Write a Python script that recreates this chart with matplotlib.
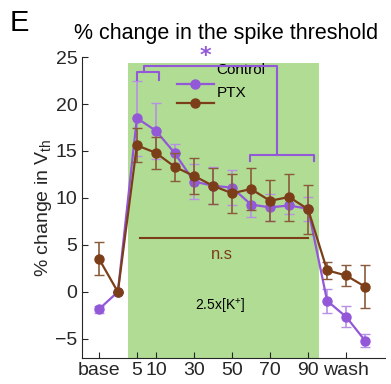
import numpy as np
import matplotlib
matplotlib.use('Agg')
import matplotlib.pyplot as plt

plt.rcParams['font.family'] = ['Liberation Sans', 'DejaVu Sans']
plt.rcParams['mathtext.fontset'] = 'custom'
plt.rcParams['mathtext.rm'] = 'Liberation Sans'
plt.rcParams['mathtext.it'] = 'Liberation Sans'

# === Données ===
x_pos = np.arange(15)
tick_pos = [0, 2, 3, 5, 7, 9, 11, 13]
tick_labels = ['base', '5', '10', '30', '50', '70', '90', 'wash']

ctrl_mean = [-1.85, 0, 18.5, 17.15, 14.75, 11.75, 11.3, 11.1, 9.3, 9.0, 9.2, 8.85, -0.95, -2.65, -5.2]
ctrl_err = [0.4, 0, 4.0, 3.0, 1.0, 1.85, 1.95, 1.85, 1.3, 1.4, 0.9, 1.25, 1.3, 1.1, 0.7]
ptx_mean = [3.55, 0, 15.6, 14.8, 13.3, 12.35, 11.3, 10.5, 10.95, 9.7, 10.1, 8.8, 2.3, 1.75, 0.55]
ptx_err = [1.8, 0, 1.8, 1.7, 1.5, 1.9, 1.9, 2.1, 2.2, 2.2, 2.5, 2.6, 0.92, 1.12, 2.3]

purple = '#9358d8'
purple_light = '#b690e6'
brown = '#7b3e19'
green = '#b0dc94'

fig = plt.figure(figsize=(3.91, 3.84), dpi=100)
ax = fig.add_axes([0.209, 0.0685, 0.776, 0.783])

# zone 2.5x[K+]
ax.axvspan(1.53, 11.58, ymin=0, ymax=(24.4 + 7) / 32, color=green, lw=0, zorder=0)

ax.errorbar(x_pos, ctrl_mean, yerr=ctrl_err, color=purple, ecolor=purple_light,
            marker='o', ms=6.5, lw=1.6, elinewidth=1.2, capsize=3.5, zorder=3)
ax.errorbar(x_pos, ptx_mean, yerr=ptx_err, color=brown, ecolor='#8a5a3a',
            marker='o', ms=6.5, lw=1.6, elinewidth=1.2, capsize=3.5, zorder=4)

# crochets de significativité
bk = dict(color=purple, lw=1.5, clip_on=False, zorder=5)
ax.plot([2.02, 2.02, 3.17, 3.17], [22.6, 23.4, 23.4, 22.6], **bk)
ax.plot([7.93, 7.93, 11.3, 11.3], [13.95, 14.6, 14.6, 13.95], **bk)
ax.plot([2.35, 2.35, 9.38, 9.38], [23.4, 24.05, 24.05, 14.6], **bk)
ax.text(5.58, 25.1, '*', color=purple, fontsize=16, fontweight='bold',
        ha='center', va='center', clip_on=False, family='DejaVu Sans')

# n.s
ax.plot([2.19, 11.02], [5.75, 5.75], color=brown, lw=1.5, zorder=2)
ax.text(6.46, 3.95, 'n.s', color=brown, fontsize=12, ha='center', va='center')
ax.text(6.4, -1.55, '2.5x[K$^{+}$]', color='black', fontsize=10, ha='center', va='center')

# légende décalée
ax.plot([0.314, 0.436], [0.909, 0.909], color=purple, lw=1.6, transform=ax.transAxes, clip_on=False)
ax.plot([0.374], [0.909], 'o', color=purple, ms=6.5, transform=ax.transAxes, clip_on=False)
ax.plot([0.314, 0.436], [0.846, 0.846], color=brown, lw=1.6, transform=ax.transAxes, clip_on=False)
ax.plot([0.374], [0.846], 'o', color=brown, ms=6.5, transform=ax.transAxes, clip_on=False)
ax.text(0.445, 0.956, 'Control', fontsize=11, va='center', transform=ax.transAxes)
ax.text(0.445, 0.881, 'PTX', fontsize=11, va='center', transform=ax.transAxes)

ax.set_xlim(-0.9, 15.05)
ax.set_ylim(-7, 25)
ax.set_xticks(tick_pos)
ax.set_xticklabels(tick_labels)
ax.set_yticks([-5, 0, 5, 10, 15, 20, 25])
ax.tick_params(direction='in', labelsize=14, colors='#262626', length=4, pad=3)
for s in ['top', 'right']:
    ax.spines[s].set_visible(False)
for s in ['left', 'bottom']:
    ax.spines[s].set_color('#262626')

ax.set_ylabel('% change in V$_{\\mathrm{th}}$', fontsize=14, color='#262626', labelpad=1)
fig.text(0.579, 0.912, '% change in the spike threshold', fontsize=15.5, ha='center', va='center')
fig.text(0.025, 0.94, 'E', fontsize=21, ha='left', va='center')

fig.savefig('out.png', dpi=100)
